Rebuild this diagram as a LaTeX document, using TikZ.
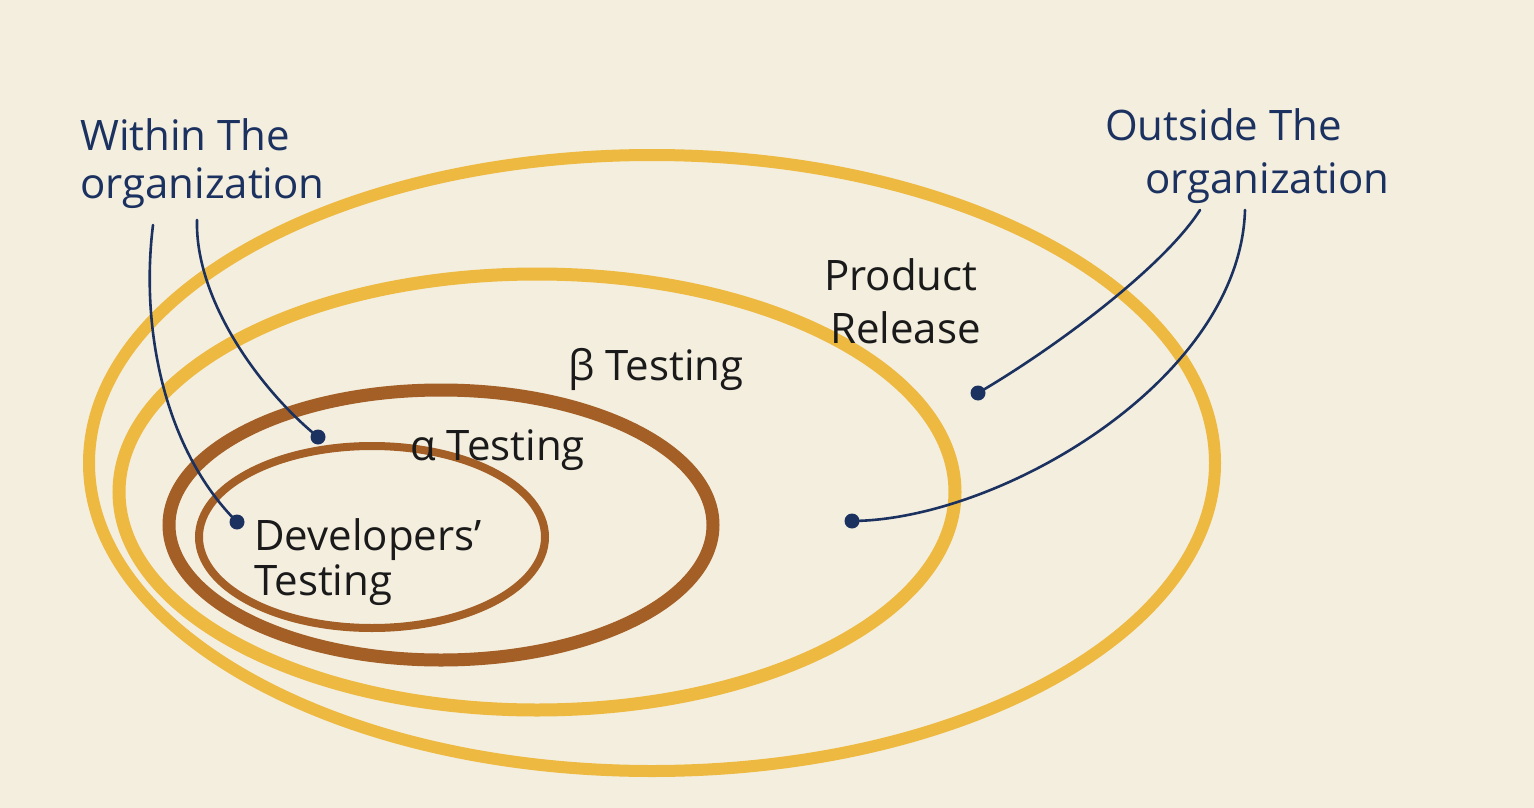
\documentclass[tikz,border=0pt]{standalone}
\usepackage{fontspec}
\setmainfont{Open Sans}
\usetikzlibrary{shapes.geometric}
\definecolor{bgc}{HTML}{F4EEDF}
\definecolor{gold}{HTML}{EDB940}
\definecolor{brownc}{HTML}{A35F26}
\definecolor{navy}{HTML}{1B3160}
\definecolor{ink}{HTML}{1A1A1A}
\tikzset{
  ring/.style={ellipse, draw, inner sep=0pt, outer sep=0pt},
  dotn/.style={circle, fill=navy, inner sep=0pt, minimum size=15pt},
  lead/.style={draw=navy, line width=2.6pt, line cap=round},
  navylabel/.style={text=navy, font=\fontsize{42}{50}\selectfont, align=left, inner sep=0pt},
  inklabel/.style={text=ink, font=\fontsize{42}{50}\selectfont, align=left, inner sep=0pt}
}
\begin{document}
\begin{tikzpicture}[x=1pt,y=-1pt]
\fill[bgc] (0,0) rectangle (1534,808);
\useasboundingbox (0,0) rectangle (1534,808);
% rings
\node[ring, draw=gold, line width=12pt, minimum width=1126pt, minimum height=616pt] (release) at (652,463) {};
\node[ring, draw=gold, line width=13pt, minimum width=836pt, minimum height=436pt] (beta) at (537,492) {};
\node[ring, draw=brownc, line width=13pt, minimum width=544pt, minimum height=270pt] (alpha) at (441,525) {};
\node[ring, draw=brownc, line width=8pt, minimum width=346pt, minimum height=182pt] (dev) at (372,537) {};
% labels
\node[navylabel, anchor=north west] (within) at (80,118) {Within The\\[-2pt]organization};
\node[navylabel, anchor=north west] (outside) at (1105,108) {Outside The\\[3pt]\hspace{40pt}organization};
\node[inklabel, anchor=north west] (prodrel) at (824,258) {Product\\[3pt]\hspace{6pt}Release};
\node[inklabel, anchor=base west] (betat) at (568,380) {β Testing};
\node[inklabel, anchor=base west] (alphat) at (410,460) {α Testing};
\node[inklabel, anchor=north west] (devt) at (254,518) {Developers'\\[-5pt]Testing};
% dots
\node[dotn] (d1) at (237,522) {};
\node[dotn] (d2) at (318,437) {};
\node[dotn] (d3) at (978,393) {};
\node[dotn] (d4) at (852,521) {};
% lead starts
\coordinate (s1) at (153,225);
\coordinate (s2) at (197,220);
\coordinate (s3) at (1200,210);
\coordinate (s4) at (1245,210);
% leads
\draw[lead] (s1) .. controls (140,330) and (165,450) .. (d1.center);
\draw[lead] (s2) .. controls (195,300) and (260,390) .. (d2.center);
\draw[lead] (s3) .. controls (1165,265) and (1060,345) .. (d3.center);
\draw[lead] (s4) .. controls (1240,380) and (1000,520) .. (d4.center);
\end{tikzpicture}
\end{document}
